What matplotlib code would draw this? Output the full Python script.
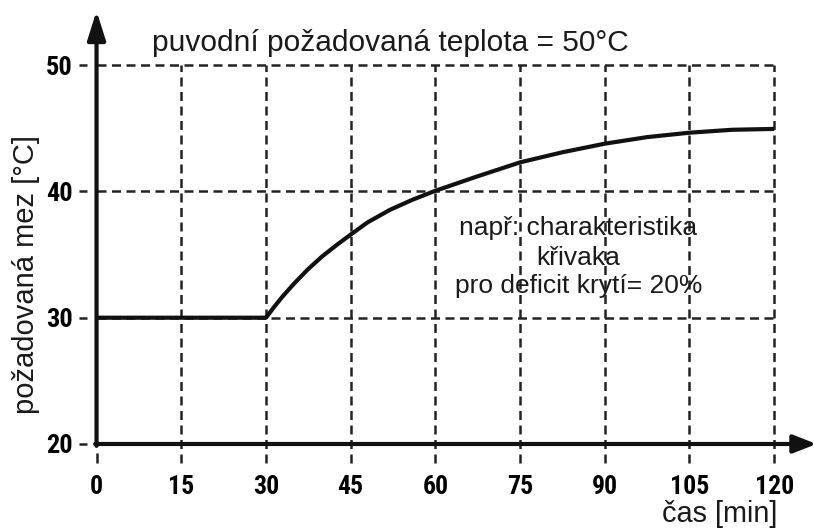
import matplotlib
matplotlib.use("Agg")
from matplotlib import pyplot as plt
import warnings

warnings.filterwarnings("ignore")

# values
cas = [0, 30, 31.5, 33, 35, 37.5, 40, 42.5, 45, 48, 52, 56, 60, 67.5, 75, 82.5, 90, 97.5, 105, 112.5, 120]
mez = [30, 30, 30.88, 31.71, 32.71, 33.86, 34.87, 35.75, 36.58, 37.55, 38.55, 39.35, 40.05, 41.2, 42.3,
       43.1, 43.78, 44.3, 44.65, 44.88, 44.95]
x_ticks = [0, 15, 30, 45, 60, 75, 90, 105, 120]
y_ticks = [20, 30, 40, 50]

tick_font = ['Liberation Sans Narrow', 'Roboto Condensed', 'Liberation Sans']
text_font = 'Liberation Sans'
black = '#111111'

fig = plt.figure(figsize=(8.14, 5.29), dpi=100)
ax = fig.add_axes([0.1186, 0.1225, 0.881, 0.8618])
ax.set_xlim(0, 127)
ax.set_ylim(18.4, 54.5)
for s in ax.spines.values():
    s.set_visible(False)

dash = (0, (3.6, 2.2))
ax.vlines(x_ticks[1:], 18.5, 50, colors='#222222', linestyles=dash, lw=1.8, clip_on=False)
ax.vlines([0], 18.5, 19.3, colors='#222222', lw=1.8, clip_on=False)
ax.hlines(y_ticks[1:], 0, 120, colors='#222222', linestyles=dash, lw=1.8, clip_on=False)
# small dashes left of the y axis
ax.hlines(y_ticks, -3.1, -1.7, colors='#222222', lw=1.8, clip_on=False)

# axes with arrows
ax.annotate('', xy=(127.5, 20), xytext=(-0.25, 20),
            arrowprops=dict(arrowstyle='-|>,head_length=1.4,head_width=0.55', lw=3, color=black,
                            shrinkA=0, shrinkB=0, mutation_scale=10), annotation_clip=False)
ax.annotate('', xy=(0, 54.3), xytext=(0, 19.85),
            arrowprops=dict(arrowstyle='-|>,head_length=1.75,head_width=0.55', lw=3, color=black,
                            shrinkA=0, shrinkB=0, mutation_scale=10), annotation_clip=False)

ax.plot(cas, mez, color=black, lw=3, solid_capstyle='butt', solid_joinstyle='round', clip_on=False)

ax.set_xticks(x_ticks)
ax.set_yticks(y_ticks)
ax.set_xticklabels([str(v) for v in x_ticks], fontfamily=tick_font, fontweight='bold', fontsize=18.5)
ax.set_yticklabels([str(v) for v in y_ticks], fontfamily=tick_font, fontweight='bold', fontsize=19)
ax.tick_params(axis='x', length=0, pad=8)
ax.tick_params(axis='y', length=0, pad=17)

ax.text(52.0, 51.08, 'puvodní požadovaná teplota = 50°C', ha='center', va='baseline',
        fontfamily=text_font, fontsize=21.5, color='#1a1a1a')
note = ['např: charakteristika', 'křivaka', 'pro deficit krytí= 20%']
note_y = [36.55, 34.17, 31.93]
for line, yy in zip(note, note_y):
    ax.text(85.3, yy, line, ha='center', va='baseline', fontfamily=text_font, fontsize=19,
            color='#1a1a1a')
ax.text(120.5, 13.85, 'čas [min]', ha='right', va='baseline', fontfamily=text_font, fontsize=20.8,
        color='#1a1a1a')
fig.text(26 / 814, 1 - 275 / 529, 'požadovaná mez [°C]', rotation=90, ha='center', va='center',
         fontfamily=text_font, fontsize=21, color='#1a1a1a')

fig.savefig('out.png', dpi=100)
